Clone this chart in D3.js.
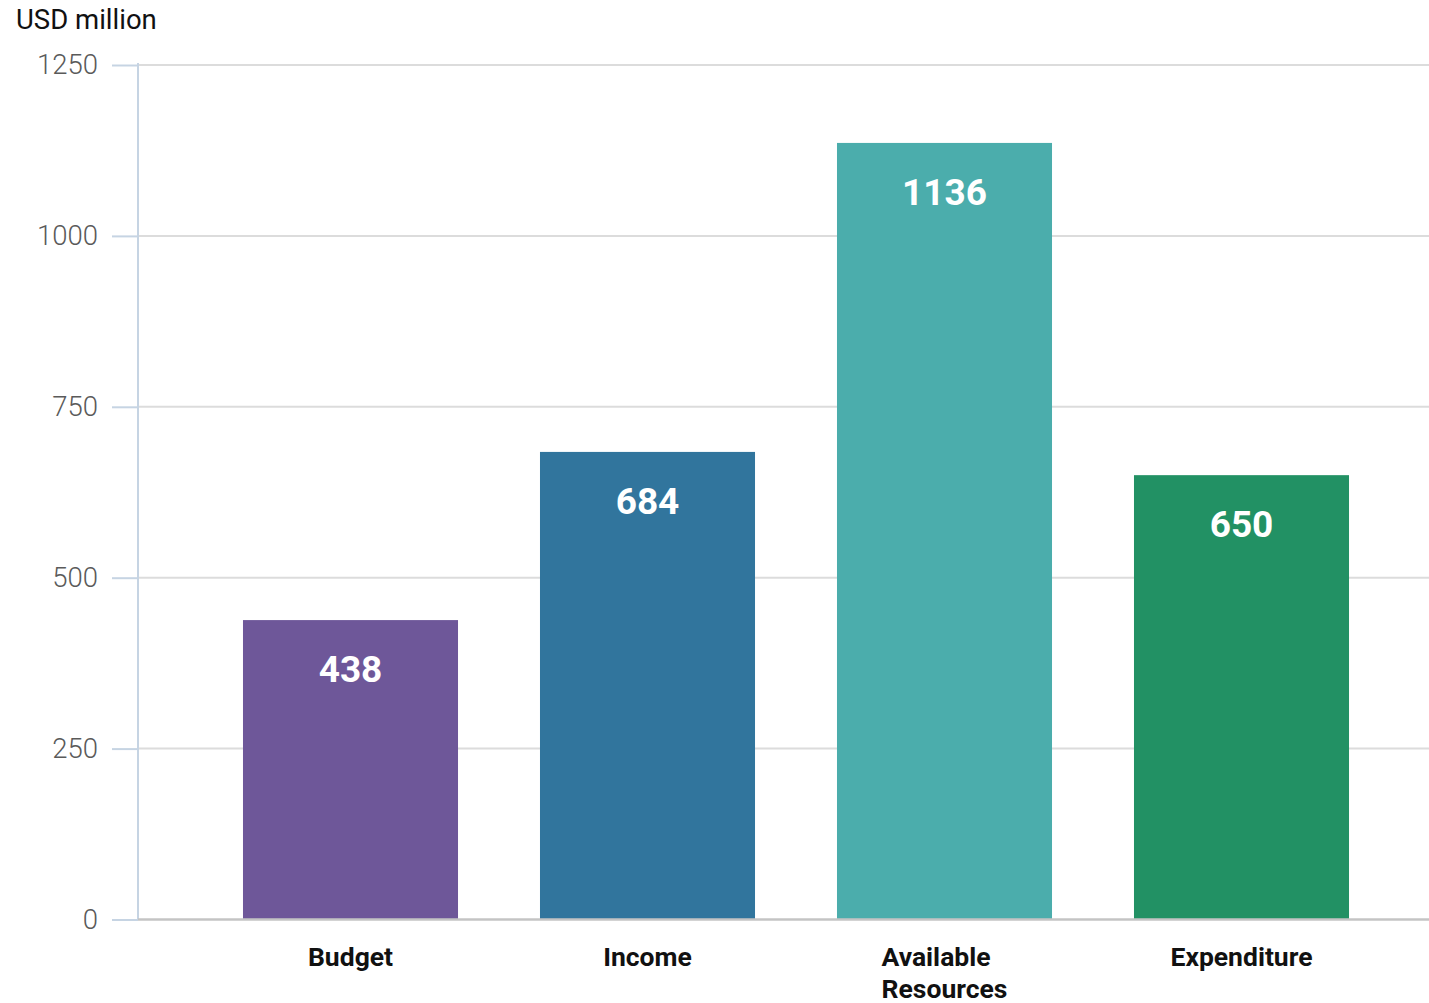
<!DOCTYPE html>
<html><head><meta charset="utf-8">
<script src="https://cdn.jsdelivr.net/npm/d3@7"></script>
<style>
body{margin:0;background:#fff;}
svg{display:block;font-family:Roboto,"Noto Sans",sans-serif;}
</style></head>
<body>
<svg id="chart" width="1429" height="1003"></svg>
<script>
const categories = [["Budget"], ["Income"], ["Available", "Resources"], ["Expenditure"]];
const values = [438, 684, 1136, 650];
const colors = ["#6e5799", "#31759d", "#4badac", "#229164"];
const yTicks = [0, 250, 500, 750, 1000, 1250];
const yLabel = "USD million";

const svg = d3.select("#chart");
const keys = categories.map(c => c.join(" "));
const x = d3.scaleBand().domain(keys).range([202, 1390]).paddingInner(0.276).paddingOuter(0.138);
const y = d3.scaleLinear().domain([0, 1250]).range([919.5, 65]);
const left = 138, right = 1429;

// gridlines
svg.append("g").selectAll("line").data(yTicks.filter(d => d > 0)).join("line")
  .attr("x1", left).attr("x2", right)
  .attr("y1", d => y(d)).attr("y2", d => y(d))
  .attr("stroke", "#dcdcdc").attr("stroke-width", 2);

// y axis
const yAxis = d3.axisLeft(y).tickValues(yTicks).tickFormat(d3.format("d")).tickSize(26).tickPadding(14);
const ga = svg.append("g").attr("transform", `translate(${left},0)`).call(yAxis);
ga.select(".domain").remove();
ga.selectAll(".tick line").attr("stroke", "#c6d4e3").attr("stroke-width", 2);
ga.selectAll(".tick text").attr("fill", "#5a5a5a").attr("font-size", 27.5).attr("font-weight", 300)
  .attr("font-family", "Roboto, sans-serif");
svg.append("line").attr("x1", left).attr("x2", left).attr("y1", y(1250) - 2).attr("y2", y(0))
  .attr("stroke", "#c6d4e3").attr("stroke-width", 2);

// bars
const bars = svg.append("g").selectAll("g").data(values).join("g");
bars.append("rect")
  .attr("x", (d, i) => x(keys[i])).attr("width", x.bandwidth())
  .attr("y", d => y(d)).attr("height", d => y(0) - y(d))
  .attr("fill", (d, i) => colors[i]);
bars.append("text")
  .attr("x", (d, i) => x(keys[i]) + x.bandwidth() / 2)
  .attr("y", d => y(d) + 62)
  .attr("text-anchor", "middle").attr("fill", "#fff")
  .attr("font-size", 37).attr("font-weight", 700)
  .text(d => d);

// baseline
svg.append("line").attr("x1", left).attr("x2", right).attr("y1", y(0)).attr("y2", y(0))
  .attr("stroke", "#c4c4c4").attr("stroke-width", 2.5);

// category labels
categories.forEach((lines, i) => {
  const cx = x(keys[i]) + x.bandwidth() / 2;
  const t = svg.append("text").attr("font-size", 26.5).attr("font-weight", 700).attr("fill", "#111");
  lines.forEach((l, j) => t.append("tspan").attr("x", cx).attr("y", 966 + j * 32).text(l));
  if (lines.length > 1) {
    let w = 0;
    t.selectAll("tspan").each(function() { w = Math.max(w, this.getComputedTextLength()); });
    t.selectAll("tspan").attr("x", cx - w / 2);
  } else {
    t.attr("text-anchor", "middle");
  }
});

// y label
svg.append("text").attr("x", 16).attr("y", 29).attr("font-size", 27.5).attr("fill", "#111").text(yLabel);
</script>
</body></html>
